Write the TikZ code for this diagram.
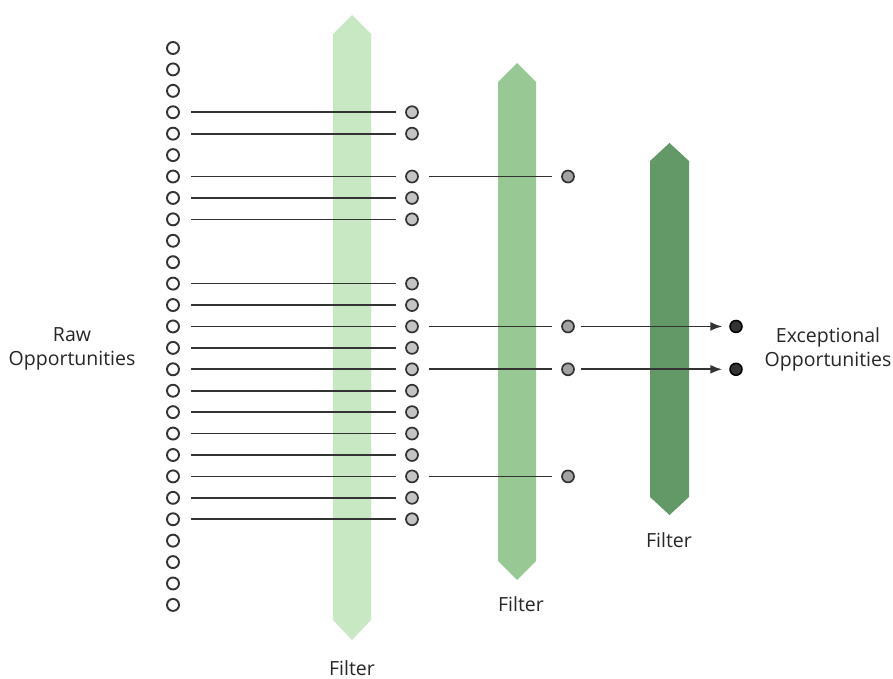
\documentclass[tikz,border=0pt]{standalone}
\usepackage{fontspec}
\setmainfont{Open Sans}
\usetikzlibrary{arrows.meta}
\definecolor{fA}{HTML}{C8E8C4}
\definecolor{fB}{HTML}{98C995}
\definecolor{fC}{HTML}{639966}
\definecolor{lineC}{HTML}{333333}
\definecolor{grayA}{HTML}{C4C4C4}
\definecolor{grayB}{HTML}{A2A2A2}
\definecolor{dotC}{HTML}{333333}
\tikzset{
  opendot/.style={circle,draw=lineC,line width=1.9pt,fill=white,minimum size=12pt,inner sep=0pt},
  graydot/.style={circle,draw=lineC,line width=1.7pt,fill=grayA,minimum size=12pt,inner sep=0pt},
  gray2dot/.style={circle,draw=lineC,line width=1.7pt,fill=grayB,minimum size=12pt,inner sep=0pt},
  darkdot/.style={circle,draw=black,line width=1.5pt,fill=dotC,minimum size=12pt,inner sep=0pt},
  link/.style={draw=lineC,line width=1.7pt},
  lbl/.style={font=\fontsize{19.5}{24}\selectfont,text=black!85,align=center},
}
\begin{document}
\begin{tikzpicture}[x=1pt,y=-1pt]
\useasboundingbox (0,0) rectangle (893,679);
% filters
\fill[fA] (333,34) -- (352,15) -- (371,34) -- (371,620) -- (352,640) -- (333,620) -- cycle;
\fill[fB] (498,82) -- (517,63) -- (536,82) -- (536,561) -- (517,580) -- (498,561) -- cycle;
\fill[fC] (650,161) -- (669.5,143) -- (689,161) -- (689,497) -- (669.5,515) -- (650,497) -- cycle;
% raw column
\foreach \i in {0,...,26} {
  \node[opendot] (o\i) at (173,{48+\i*21.42}) {};
}
% first stage
\foreach \i in {3,4,6,7,8,11,12,13,14,15,16,17,18,19,20,21,22} {
  \node[graydot] (g\i) at (412,{48+\i*21.42}) {};
  \draw[link,shorten <=11pt,shorten >=9pt] (o\i) -- (g\i);
}
% second stage
\foreach \i in {6,13,15,20} {
  \node[gray2dot] (h\i) at (568,{48+\i*21.42}) {};
  \draw[link,shorten <=10pt,shorten >=9pt] (g\i) -- (h\i);
}
% third stage
\foreach \i in {13,15} {
  \node[darkdot] (d\i) at (736,{48+\i*21.42}) {};
  \draw[link,-{Latex[length=12pt,width=9pt]},shorten <=6pt,shorten >=7pt] (h\i) -- (d\i);
}
% labels
\node[lbl] (raw) at (72,349) {Raw\\Opportunities};
\node[lbl] (exc) at (828,349) {Exceptional\\Opportunities};
\node[lbl] (f1) at (352,668) {Filter};
\node[lbl] (f2) at (521,604) {Filter};
\node[lbl] (f3) at (669,540) {Filter};
\end{tikzpicture}
\end{document}
